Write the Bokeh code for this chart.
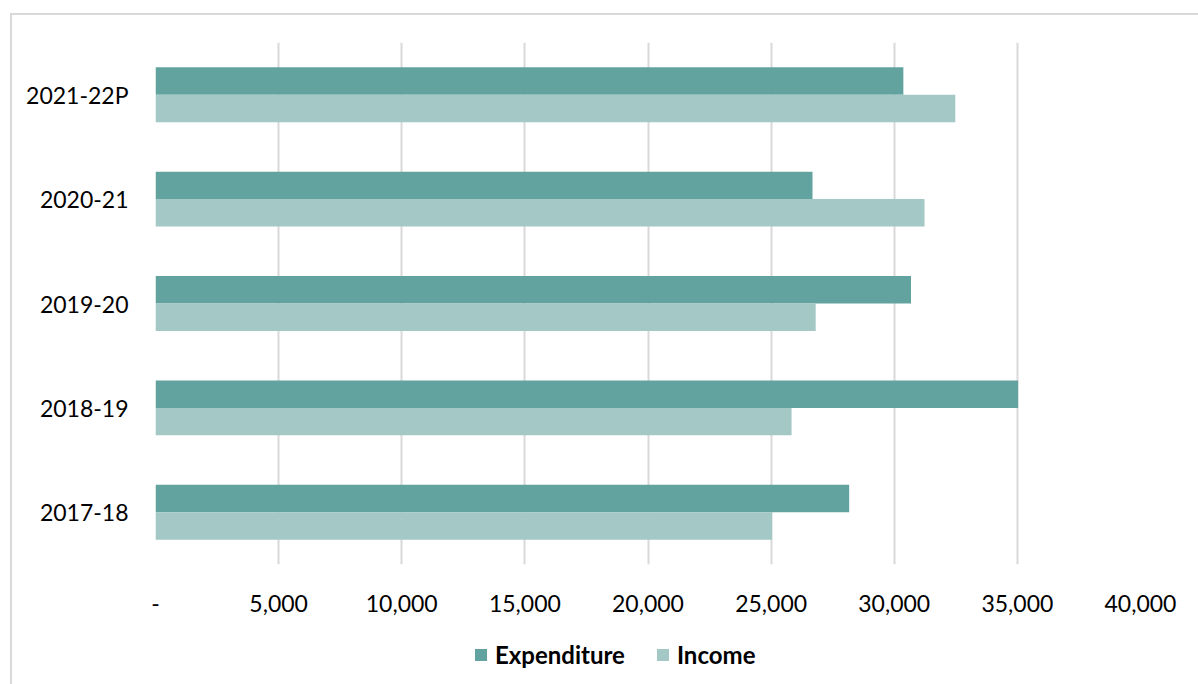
from bokeh.plotting import figure
from bokeh.layouts import column
from bokeh.models import (ColumnDataSource, FactorRange, Range1d, FixedTicker,
                          NumeralTickFormatter, Legend, LegendItem)
from bokeh.transform import dodge
from bokeh.embed import file_html
from bokeh.resources import INLINE

years = ["2017-18", "2018-19", "2019-20", "2020-21", "2021-22P"]
expenditure = [28170, 35030, 30680, 26680, 30370]
income = [25040, 25830, 26810, 31230, 32480]
x_ticks = [0, 5000, 10000, 15000, 20000, 25000, 30000, 35000, 40000]
series_names = ["Expenditure", "Income"]

EXP_COLOR = "#62a39f"
INC_COLOR = "#a3c8c5"
FONT = "Lato"

src = ColumnDataSource(dict(year=years, expenditure=expenditure, income=income))

p = figure(width=1186, height=609, y_range=FactorRange(*years),
           x_range=Range1d(0, 40000), output_backend="svg",
           toolbar_location=None, title=None,
           min_border_left=143, min_border_right=58,
           min_border_top=27, min_border_bottom=60)

bar_h = 0.263
p.hbar(y=dodge("year", bar_h / 2, range=p.y_range), right="expenditure",
       left=0, height=bar_h, source=src, fill_color=EXP_COLOR, line_color=None)
p.hbar(y=dodge("year", -bar_h / 2, range=p.y_range), right="income",
       left=0, height=bar_h, source=src, fill_color=INC_COLOR, line_color=None)

p.outline_line_color = None
p.background_fill_color = "white"
p.border_fill_color = "white"

p.ygrid.grid_line_color = None
p.xgrid.grid_line_color = "#d9d9d9"
p.xgrid.grid_line_width = 2
p.xaxis.ticker = FixedTicker(ticks=x_ticks)
p.xaxis.formatter = NumeralTickFormatter(format="0,0")
p.xaxis.major_label_overrides = {0: "-"}

for ax in (p.xaxis[0], p.yaxis[0]):
    ax.axis_line_color = None
    ax.major_tick_line_color = None
    ax.minor_tick_line_color = None
    ax.major_label_text_font = FONT
    ax.major_label_text_font_size = "23px"
    ax.major_label_text_color = "black"
p.xaxis.major_label_standoff = 24
p.yaxis.major_label_standoff = 21

# legend strip below the chart (frame aligned with the main chart's frame)
p2 = figure(width=1186, height=60, output_backend="svg", toolbar_location=None,
            title=None, x_axis_location=None, y_axis_location=None,
            x_range=Range1d(0, 1), y_range=Range1d(0, 1), min_border=0)
p2.outline_line_color = None
p2.grid.visible = False
p2.border_fill_color = "white"
# zero-size swatch renderers (only used to draw the legend keys)
l_exp = p2.hbar(y=[0], right=[0], left=0, height=0, fill_color=EXP_COLOR, line_color=None)
l_inc = p2.hbar(y=[0], right=[0], left=0, height=0, fill_color=INC_COLOR, line_color=None)

legend = Legend(items=[LegendItem(label=series_names[0], renderers=[l_exp]),
                       LegendItem(label=series_names[1], renderers=[l_inc])],
                location=(318, 15), orientation="horizontal",
                glyph_width=15, glyph_height=15, label_standoff=7, spacing=30,
                padding=0, margin=0, border_line_color=None,
                background_fill_alpha=0,
                label_text_font=FONT, label_text_font_style="bold",
                label_text_font_size="24px", label_text_color="black")
p2.add_layout(legend, "center")

layout = column(p, p2, spacing=0)
layout.styles = {"margin-left": "10px", "margin-top": "13px",
                 "border-left": "2px solid #d9d9d9", "border-top": "2px solid #d9d9d9"}

open("out.html", "w").write(file_html(layout, INLINE))
